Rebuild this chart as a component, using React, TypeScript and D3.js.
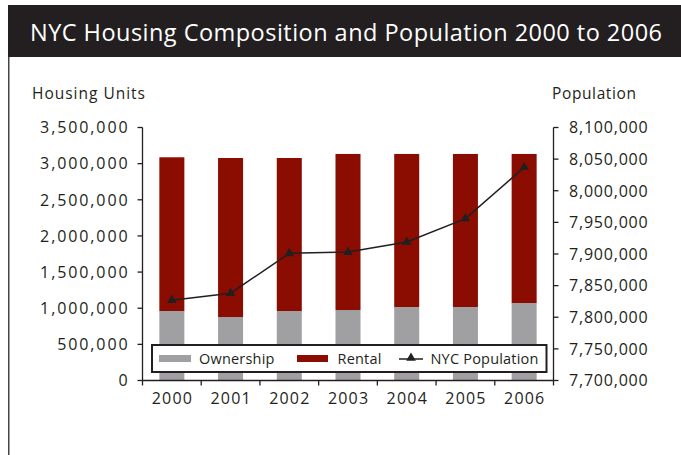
import React from "react";
import * as d3 from "d3";

const years = ["2000", "2001", "2002", "2003", "2004", "2005", "2006"];
const ownership = [961000, 878000, 961000, 975000, 1017000, 1017000, 1072000];
const rental = [2127000, 2200000, 2117000, 2159000, 2117000, 2117000, 2062000];
const population = [7827000, 7838000, 7901000, 7903000, 7919000, 7956000, 8037000];
const leftTicks = [0, 500000, 1000000, 1500000, 2000000, 2500000, 3000000, 3500000];
const rightTicks = [7700000, 7750000, 7800000, 7850000, 7900000, 7950000, 8000000, 8050000, 8100000];
const titleText = "NYC Housing Composition and Population 2000 to 2006";
const leftAxisTitle = "Housing Units";
const rightAxisTitle = "Population";
const seriesNames = ["Ownership", "Rental", "NYC Population"];

const W = 681;
const H = 455;
const plotLeft = 142.5;
const plotRight = 553.5;
const plotTop = 127.5;
const plotBottom = 380.5;
const FONT = "'Open Sans', 'Noto Sans', sans-serif";
const DARK = "#231f20";
const RED = "#8b0c00";
const GRAY = "#a0a0a3";

export default function App() {
  const x = d3
    .scaleBand<string>()
    .domain(years)
    .range([plotLeft, plotRight])
    .paddingInner(0.574)
    .paddingOuter(0.287);
  const yL = d3.scaleLinear().domain([0, 3500000]).range([plotBottom, plotTop]);
  const yR = d3.scaleLinear().domain([7700000, 8100000]).range([plotBottom, plotTop]);
  const fmt = d3.format(",");
  const step = (plotRight - plotLeft) / years.length;
  const boundaries = d3.range(years.length + 1).map((i) => plotLeft + i * step);

  const line = d3
    .line<number>()
    .x((_, i) => (x(years[i]) as number) + x.bandwidth() / 2)
    .y((d) => yR(d));

  const tri = d3.symbol().type(d3.symbolTriangle).size(40)();

  const legY = 345;
  const legH = 27;

  return (
    <svg
      width={W}
      height={H}
      style={{ position: "absolute", left: 0, top: 0, background: "#fff" }}
      fontFamily={FONT}
    >
      <rect x={0} y={0} width={W} height={H} fill="#fff" />
      {/* title bar */}
      <rect x={8} y={5} width={W - 8} height={52} fill={DARK} />
      <text
        x={30}
        y={41}
        fill="#fff"
        fontSize={23.5}
        textLength={632}
        lengthAdjust="spacing"
      >
        {titleText}
      </text>
      <line x1={8.75} y1={57} x2={8.75} y2={H} stroke="#444" strokeWidth={1.5} />

      {/* axis titles */}
      <text x={32} y={99} fontSize={15.5} fill={DARK} textLength={113} lengthAdjust="spacing">
        {leftAxisTitle}
      </text>
      <text x={552} y={99} fontSize={15.5} fill={DARK} textLength={84} lengthAdjust="spacing">
        {rightAxisTitle}
      </text>

      {/* bars */}
      {years.map((yr, i) => (
        <g key={yr}>
          <rect
            x={x(yr)}
            width={x.bandwidth()}
            y={yL(ownership[i])}
            height={yL(0) - yL(ownership[i])}
            fill={GRAY}
          />
          <rect
            x={x(yr)}
            width={x.bandwidth()}
            y={yL(ownership[i] + rental[i])}
            height={yL(ownership[i]) - yL(ownership[i] + rental[i])}
            fill={RED}
          />
        </g>
      ))}

      {/* population line */}
      <path d={line(population) || ""} fill="none" stroke={DARK} strokeWidth={1.5} />
      {population.map((p, i) => (
        <path
          key={i}
          d={tri || ""}
          transform={`translate(${(x(years[i]) as number) + x.bandwidth() / 2},${yR(p)})`}
          fill={DARK}
        />
      ))}

      {/* left axis */}
      <line x1={plotLeft} y1={plotTop} x2={plotLeft} y2={plotBottom} stroke={DARK} strokeWidth={1.3} />
      {leftTicks.map((t) => (
        <g key={t}>
          <line x1={plotLeft - 5} x2={plotLeft} y1={yL(t)} y2={yL(t)} stroke={DARK} strokeWidth={1.3} />
          <text
            x={129.5}
            y={yL(t)}
            dy="0.36em"
            textAnchor="end"
            fontSize={16}
            letterSpacing={1.9}
            fill={DARK}
          >
            {fmt(t)}
          </text>
        </g>
      ))}

      {/* right axis */}
      <line x1={plotRight} y1={plotTop} x2={plotRight} y2={plotBottom} stroke={DARK} strokeWidth={1.3} />
      {rightTicks.map((t) => (
        <g key={t}>
          <line x1={plotRight} x2={plotRight + 5} y1={yR(t)} y2={yR(t)} stroke={DARK} strokeWidth={1.3} />
          <text x={569} y={yR(t)} dy="0.36em" fontSize={16} letterSpacing={0.8} fill={DARK}>
            {fmt(t)}
          </text>
        </g>
      ))}

      {/* x axis */}
      <line x1={plotLeft} y1={plotBottom} x2={plotRight} y2={plotBottom} stroke={DARK} strokeWidth={1.3} />
      {boundaries.map((b, i) => (
        <line key={i} x1={b} x2={b} y1={plotBottom} y2={plotBottom + 5} stroke={DARK} strokeWidth={1.3} />
      ))}
      {years.map((yr) => (
        <text
          key={yr}
          x={(x(yr) as number) + x.bandwidth() / 2 + 0.6}
          y={404}
          textAnchor="middle"
          fontSize={16}
          letterSpacing={1.2}
          fill={DARK}
        >
          {yr}
        </text>
      ))}

      {/* legend */}
      <rect x={152} y={legY} width={394.5} height={legH} fill="#fff" stroke={DARK} strokeWidth={2} />
      <rect x={159} y={355} width={32} height={7} fill={GRAY} />
      <text x={199} y={363.5} fontSize={14.5} fill={DARK} letterSpacing={0.2}>
        {seriesNames[0]}
      </text>
      <rect x={297} y={355} width={31} height={7} fill={RED} />
      <text x={337.5} y={363.5} fontSize={14.5} fill={DARK} letterSpacing={0.2}>
        {seriesNames[1]}
      </text>
      <line x1={399} x2={423} y1={359} y2={359} stroke={DARK} strokeWidth={1.5} />
      <path d={tri || ""} transform="translate(411,358)" fill={DARK} />
      <text x={430.5} y={363.5} fontSize={14.5} fill={DARK} letterSpacing={0.2}>
        {seriesNames[2]}
      </text>
    </svg>
  );
}
